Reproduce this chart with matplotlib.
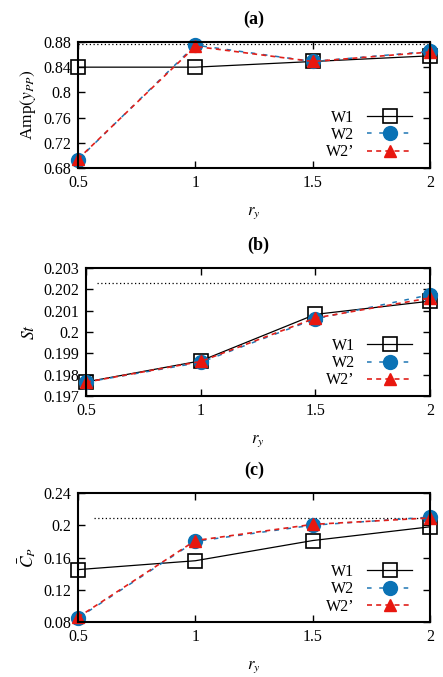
import numpy as np
import matplotlib.pyplot as plt

plt.rcParams["font.family"] = ["Liberation Serif", "DejaVu Serif"]
plt.rcParams["mathtext.fontset"] = "stix"

ry = [0.5, 1.0, 1.5, 2.0]

# (a) amplitude
amp_w1 = [0.840, 0.840, 0.849, 0.858]
amp_w2 = [0.693, 0.875, 0.849, 0.865]
amp_w2p = [0.694, 0.873, 0.849, 0.864]
amp_ref = 0.877

# (b) Strouhal
st_w1 = [0.19766, 0.19865, 0.20083, 0.20145]
st_w2 = [0.19765, 0.19858, 0.20062, 0.20175]
st_w2p = [0.19765, 0.19862, 0.20066, 0.20160]
st_ref = 0.20231

# (c) mean power coefficient
cp_w1 = [0.145, 0.156, 0.181, 0.198]
cp_w2 = [0.085, 0.180, 0.200, 0.210]
cp_w2p = [0.086, 0.181, 0.201, 0.209]
cp_ref = 0.209

panels = [
    ("(a)", r"Amp$(y_{PP})$", amp_w1, amp_w2, amp_w2p, amp_ref,
     (0.68, 0.88), [0.68, 0.72, 0.76, 0.8, 0.84, 0.88],
     ["0.68", "0.72", "0.76", "0.8", "0.84", "0.88"],
     [0.176, 0.752, 0.795, 0.186], 0.5),
    ("(b)", r"$St$", st_w1, st_w2, st_w2p, st_ref,
     (0.197, 0.203), [0.197, 0.198, 0.199, 0.2, 0.201, 0.202, 0.203],
     ["0.197", "0.198", "0.199", "0.2", "0.201", "0.202", "0.203"],
     [0.194, 0.415, 0.777, 0.189], 0.55),
    ("(c)", r"$\bar{C}_P$", cp_w1, cp_w2, cp_w2p, cp_ref,
     (0.08, 0.24), [0.08, 0.12, 0.16, 0.2, 0.24],
     ["0.08", "0.12", "0.16", "0.2", "0.24"],
     [0.176, 0.081, 0.795, 0.191], 0.57),
]

fig = plt.figure(figsize=(4.43, 6.77), dpi=100)

for title, ylab, w1, w2, w2p, ref, ylim, yt, ytl, rect, ref_x0 in panels:
    ax = fig.add_axes(rect)
    ax.plot([ref_x0, 2.0], [ref, ref], color="black", linestyle=(0, (1, 2)), linewidth=0.9)
    ax.plot(ry, w1, color="black", linewidth=0.9, marker="s", markersize=9.5,
            markerfacecolor="none", markeredgecolor="black", markeredgewidth=1.2,
            label="W1", zorder=3, clip_on=False)
    ax.plot(ry, w2, color="#1f77b4", linewidth=1.1, linestyle=(0, (3, 5)), marker="o", markersize=10,
            markerfacecolor="#0a72b5", markeredgecolor="#0a72b5", label="W2", zorder=4, clip_on=False)
    ax.plot(ry, w2p, color="#e0201b", linewidth=1.2, linestyle=(0, (3, 2.5)), marker="^", markersize=9,
            markerfacecolor="#e8170f", markeredgecolor="#e8170f", label="W2\u2019", zorder=5,
            clip_on=False)
    ax.set_xlim(0.5, 2.0)
    ax.set_ylim(*ylim)
    ax.set_xticks([0.5, 1.0, 1.5, 2.0], ["0.5", "1", "1.5", "2"])
    ax.set_yticks(yt, ytl)
    ax.tick_params(direction="in", top=True, right=True, length=5, width=1.0, labelsize=11.5, pad=5)
    for sp in ax.spines.values():
        sp.set_linewidth(1.5)
        sp.set_zorder(6)
    ax.set_title(title, fontsize=13, fontweight="bold", pad=13)
    ax.set_xlabel(r"$r_y$", fontsize=12, labelpad=10)
    ax.set_ylabel(ylab, fontsize=12.5, labelpad=4)
    ax.legend(loc="lower right", bbox_to_anchor=(0.985, -0.04), frameon=False, markerfirst=False,
              fontsize=11.5, handlelength=2.8, labelspacing=0.08, handletextpad=0.8, borderpad=0.3)

fig.savefig("out.png", dpi=100)
